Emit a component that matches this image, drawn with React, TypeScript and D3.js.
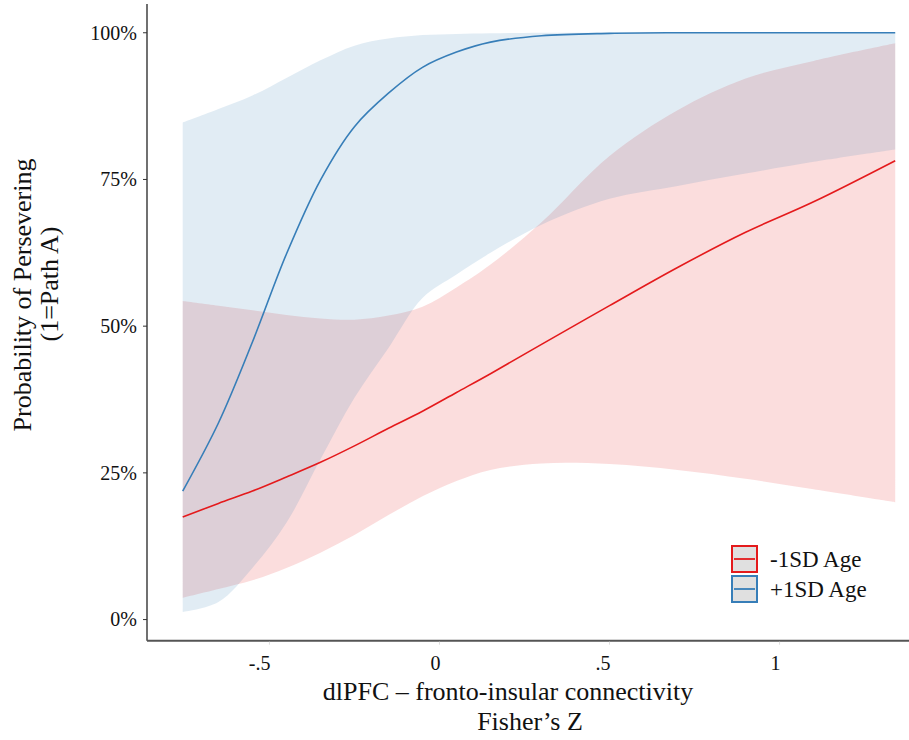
import React from "react";
import * as d3 from "d3";

// Predicted probability of persevering across dlPFC – fronto-insular connectivity,
// for younger (-1SD) and older (+1SD) age, with confidence ribbons.
const xGrid = [-0.755, -0.65, -0.55, -0.45, -0.35, -0.25, -0.15, -0.05, 0.05, 0.15, 0.3, 0.5, 0.7, 0.9, 1.1, 1.34];

const youngFit = [0.175, 0.198, 0.219, 0.243, 0.268, 0.296, 0.326, 0.355, 0.387, 0.419, 0.469, 0.535, 0.6, 0.66, 0.712, 0.782];
const youngLo = [0.037, 0.052, 0.067, 0.088, 0.114, 0.144, 0.178, 0.21, 0.236, 0.255, 0.266, 0.265, 0.255, 0.24, 0.222, 0.2];
const youngHi = [0.543, 0.535, 0.527, 0.519, 0.513, 0.511, 0.518, 0.533, 0.566, 0.605, 0.677, 0.79, 0.868, 0.922, 0.952, 0.982];

const oldFit = [0.219, 0.335, 0.473, 0.623, 0.749, 0.84, 0.897, 0.941, 0.967, 0.984, 0.995, 0.999, 1.0, 1.0, 1.0, 1.0];
const oldLo = [0.013, 0.03, 0.088, 0.165, 0.273, 0.378, 0.463, 0.548, 0.588, 0.625, 0.673, 0.717, 0.739, 0.76, 0.78, 0.801];
const oldHi = [0.847, 0.87, 0.893, 0.923, 0.953, 0.978, 0.99, 0.996, 0.998, 0.999, 1.0, 1.0, 1.0, 1.0, 1.0, 1.0];

const xTicks = [-0.5, 0, 0.5, 1];
const xTickLabels = ["-.5", "0", ".5", "1"];
const yTicks = [0, 0.25, 0.5, 0.75, 1];
const yTickLabels = ["0%", "25%", "50%", "75%", "100%"];

const seriesNames = ["-1SD Age", "+1SD Age"];
const seriesColors = ["#E41A1C", "#377EB8"];

const FONT = "'Liberation Serif', 'Times New Roman', serif";

export default function App() {
  const W = 909;
  const H = 740;
  const left = 147;
  const bottom = 640.7;

  const x = d3.scaleLinear().domain([-0.86, 1.447]).range([left, 931.6]);
  const y = d3.scaleLinear().domain([-0.036, 1.049]).range([bottom, 4]);

  const curve = d3.curveCatmullRom.alpha(0.5);
  const idx = xGrid.map((_, i) => i);
  const area = (lo: number[], hi: number[]) =>
    d3
      .area<number>()
      .x((i) => x(xGrid[i]))
      .y0((i) => y(lo[i]))
      .y1((i) => y(hi[i]))
      .curve(curve)(idx) || "";
  const line = (v: number[]) =>
    d3
      .line<number>()
      .x((i) => x(xGrid[i]))
      .y((i) => y(v[i]))
      .curve(curve)(idx) || "";

  const legendX = 732;
  const legendY = [546, 576];

  return (
    <svg
      width={W}
      height={H}
      style={{ position: "absolute", left: 0, top: 0, background: "#fff" }}
      fontFamily={FONT}
    >
      {/* ribbons */}
      <path d={area(youngLo, youngHi)} fill={seriesColors[0]} fillOpacity={0.15} />
      <path d={area(oldLo, oldHi)} fill={seriesColors[1]} fillOpacity={0.15} />

      {/* fitted lines */}
      <path d={line(youngFit)} fill="none" stroke={seriesColors[0]} strokeWidth={1.6} />
      <path d={line(oldFit)} fill="none" stroke={seriesColors[1]} strokeWidth={1.6} />

      {/* y axis */}
      <line x1={left} x2={left} y1={4} y2={bottom} stroke="#111" strokeWidth={1.2} />
      {yTicks.map((t, i) => (
        <g key={t}>
          <line x1={left - 4} x2={left} y1={y(t)} y2={y(t)} stroke="#333" strokeWidth={1} />
          <text x={137} y={y(t)} dy="0.34em" textAnchor="end" fontSize={20} fill="#111">
            {yTickLabels[i]}
          </text>
        </g>
      ))}

      {/* x axis */}
      <line x1={left} x2={W} y1={bottom} y2={bottom} stroke="#555" strokeWidth={2} />
      {xTicks.map((t, i) => (
        <g key={t}>
          <line x1={x(t)} x2={x(t)} y1={bottom + 1} y2={bottom + 4} stroke="#ddd" strokeWidth={1} />
          <text x={x(t) + 1} y={670} textAnchor="end" fontSize={20} fill="#111">
            {xTickLabels[i]}
          </text>
        </g>
      ))}

      {/* axis titles */}
      <text x={508} y={700} textAnchor="middle" fontSize={26} fill="#111">
        dlPFC – fronto-insular connectivity
      </text>
      <text x={530} y={730} textAnchor="middle" fontSize={26} fill="#111">
        Fisher’s Z
      </text>
      <text transform="translate(31,295) rotate(-90)" textAnchor="middle" fontSize={26} fill="#111">
        Probability of Persevering
      </text>
      <text transform="translate(58,284) rotate(-90)" textAnchor="middle" fontSize={26} fill="#111">
        (1=Path A)
      </text>

      {/* legend */}
      {seriesNames.map((name, i) => (
        <g key={name}>
          <rect
            x={legendX}
            y={legendY[i]}
            width={25}
            height={26}
            fill="#e0e0e0"
            stroke={seriesColors[i]}
            strokeWidth={2}
          />
          <line
            x1={legendX + 2}
            x2={legendX + 23}
            y1={legendY[i] + 13}
            y2={legendY[i] + 13}
            stroke={seriesColors[i]}
            strokeWidth={1.8}
          />
          <text x={770} y={legendY[i] + 21} fontSize={23} fill="#111">
            {name}
          </text>
        </g>
      ))}
    </svg>
  );
}
